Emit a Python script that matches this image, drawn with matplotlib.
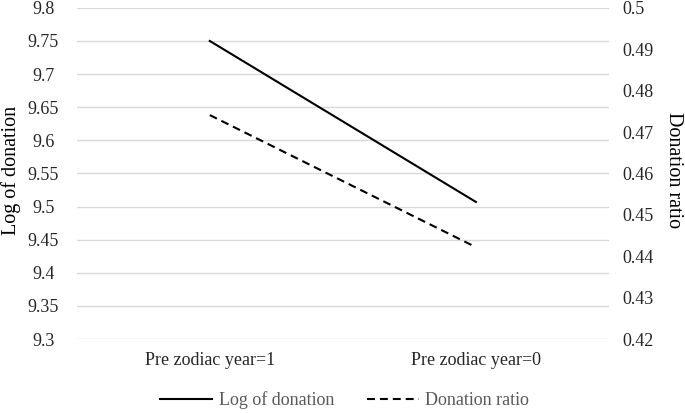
import matplotlib.pyplot as plt
import matplotlib.ticker as mticker

categories = ['Pre zodiac year=1', 'Pre zodiac year=0']
log_donation = [9.75, 9.507]
donation_ratio = [0.4741, 0.4422]

plt.rcParams['font.family'] = ['Liberation Serif', 'DejaVu Serif']

fig = plt.figure(figsize=(6.85, 4.13), dpi=100)
ax = fig.add_axes([0.112, 0.179, 0.777, 0.802])
ax2 = ax.twinx()

x = list(range(len(categories)))
l1, = ax.plot(x, log_donation, color='black', linewidth=1.5, label='Log of donation')
l2, = ax2.plot(x, donation_ratio, color='black', linewidth=1.5, linestyle=(0, (3.8, 2.4)),
               label='Donation ratio')

ax.set_xlim(-0.5, 1.5)
ax.set_ylim(9.3, 9.8)
ax2.set_ylim(0.42, 0.5)
ax.set_yticks([9.3 + 0.05 * i for i in range(11)])
ax2.set_yticks([0.42 + 0.01 * i for i in range(9)])
fmt = mticker.FuncFormatter(lambda v, p: ('%.2f' % v).rstrip('0').rstrip('.'))
ax.yaxis.set_major_formatter(fmt)
ax2.yaxis.set_major_formatter(fmt)
ax.set_xticks(x)
ax.set_xticklabels(categories)

ax.grid(axis='y', color='#d9d9d9', linewidth=1)
ax.set_axisbelow(True)
for a in (ax, ax2):
    for s in a.spines.values():
        s.set_visible(False)
    a.tick_params(length=0, labelsize=13, labelcolor='#262626')
# left tick labels are centred like in the original
ax.tick_params(axis='y', pad=24)
for t in ax.get_yticklabels():
    t.set_horizontalalignment('center')
ax2.tick_params(axis='y', pad=10)
ax.tick_params(axis='x', pad=9)

ax.set_ylabel('Log of donation', fontsize=14.5, ha='center', va='center')
ax.yaxis.set_label_coords(-0.123, 0.51)
ax2.set_ylabel('Donation ratio', fontsize=14.5, rotation=270, ha='center', va='center')
ax2.yaxis.set_label_coords(1.122, 0.51)

leg = fig.legend(handles=[l1, l2], loc='lower center', bbox_to_anchor=(0.503, -0.03), ncol=2,
                 frameon=False, fontsize=13, handlelength=2.9, handletextpad=0.35,
                 columnspacing=1.8)
for t in leg.get_texts():
    t.set_color('#595959')

fig.savefig('out.png', dpi=100)
